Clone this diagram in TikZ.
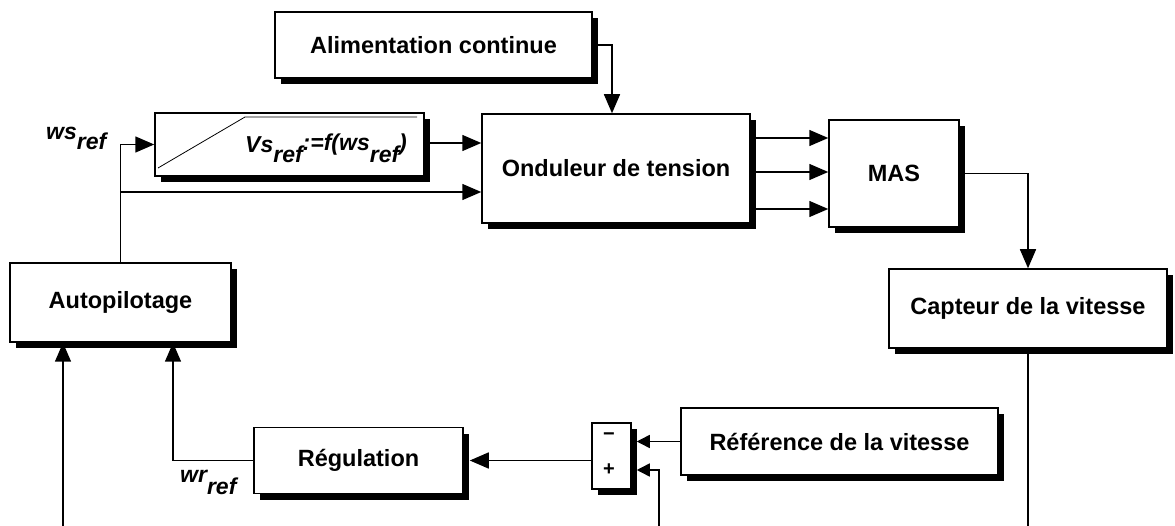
\documentclass[tikz,border=0pt]{standalone}
\usepackage{fontspec}
\setmainfont{Liberation Sans}
\usetikzlibrary{arrows.meta,shadows}
\begin{document}
\begin{tikzpicture}[x=1pt,y=-1pt,
  box/.style={draw, line width=1.5pt, fill=white, inner sep=0pt,
    font=\bfseries\fontsize{23.5}{27}\selectfont,
    drop shadow={shadow xshift=6pt,shadow yshift=-6pt,fill=black,opacity=1}},
  lbl/.style={inner sep=0pt, font=\bfseries\itshape\fontsize{23}{26}\selectfont},
  wire/.style={line width=1.5pt},
  arr/.style={wire,-{Triangle[length=19pt,width=16pt]}},
  sarr/.style={wire,-{Triangle[length=13pt,width=13pt]},shorten >=5pt}]
\useasboundingbox (0,0) rectangle (1175,526);
% boxes
\node[box, minimum width=317pt, minimum height=66pt] (alim) at (433.5,45) {Alimentation continue};
\node[box, minimum width=269pt, minimum height=63pt] (vsf) at (289.5,144.5) {};
\node[box, minimum width=268pt, minimum height=109pt] (ond) at (616,168.5) {Onduleur de tension};
\node[box, minimum width=130pt, minimum height=107pt] (mas) at (894,173.5) {MAS};
\node[box, minimum width=278pt, minimum height=79pt] (cap) at (1028,308.5) {Capteur de la vitesse};
\node[box, minimum width=221pt, minimum height=79pt] (auto) at (120.5,302.5) {Autopilotage};
\node[box, minimum width=209pt, minimum height=66pt] (reg) at (358.5,460.5) {R\'egulation};
\node[box, minimum width=39pt, minimum height=66pt] (sum) at (611.5,456) {};
\node[box, minimum width=317pt, minimum height=67pt] (refv) at (839.5,441.5) {R\'ef\'erence de la vitesse};
% contents of the ramp block and the summer
\draw[line width=0.8pt] (158,168) -- (245,117) -- (417,117);
\node[lbl, anchor=base west] (vstxt) at (245,153) {Vs\raisebox{-10pt}{ref}\raisebox{2pt}{:=f(ws}\raisebox{-10pt}{ref}\raisebox{2pt}{)}};
\node[font=\bfseries\fontsize{20}{22}\selectfont, inner sep=0pt] (minus) at (609,437) {\textminus};
\node[font=\bfseries\fontsize{20}{22}\selectfont, inner sep=0pt] (plus) at (609,470) {+};
% labels
\node[lbl, anchor=base west] (wsref) at (46,140) {ws\raisebox{-10pt}{ref}};
\node[lbl, anchor=base west] (wrref) at (180,482) {wr\raisebox{-12pt}{ref}};
% free ends at the bottom
\coordinate (b1) at (63,526);
\coordinate (b2) at (659,526);
\coordinate (b3) at (1028,526);
% connectors
\draw[arr] (alim.east) -| ([xshift=-4pt]ond.north);
\draw[arr] (auto.north) |- (vsf.west);
\draw[arr] (auto.north) |- (ond.west |- 0,192);
\draw[arr] (vsf.east |- 0,143) -- (ond.west |- 0,143);
\draw[arr] (ond.east |- 0,138) -- (mas.west |- 0,138);
\draw[arr] (ond.east |- 0,172) -- (mas.west |- 0,172);
\draw[arr] (ond.east |- 0,209) -- (mas.west |- 0,209);
\draw[arr] (mas.east) -| (cap.north);
\draw[wire] (cap.south) -- (b3);
\draw[sarr] (refv.west) -- (refv.west -| sum.east);
\draw[sarr] (b2) |- (sum.east |- 0,470);
\draw[arr, shorten >=6pt] (sum.west |- reg.east) -- (reg.east);
\draw[arr] (reg.west) -| (173,0 |- auto.south);
\draw[arr] (b1) -- (b1 |- auto.south);
\end{tikzpicture}
\end{document}
